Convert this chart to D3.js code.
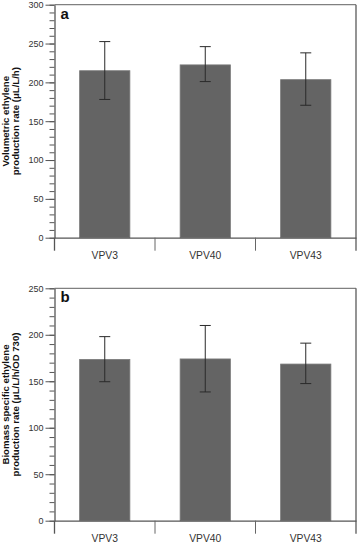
<!DOCTYPE html>
<html>
<head>
<meta charset="utf-8">
<script src="https://cdn.jsdelivr.net/npm/d3@7"></script>
<style>
  body { margin: 0; background: #fff; }
  svg { display: block; font-family: Arial, "Liberation Sans", sans-serif; }
  .tick text { fill: #333; }
</style>
</head>
<body>
<script>
var anchoSvg = 359,
    altoSvg = 543;

// datos
var cepas = ['VPV3', 'VPV40', 'VPV43'];

var volumetrica = [215, 222.5, 203.5];
var volumetricaSup = [252.5, 246, 238];
var volumetricaInf = [178, 201, 170.5];

var biomasa = [173.5, 174, 168.5];
var biomasaSup = [198, 210, 191];
var biomasaInf = [149.5, 138.5, 147.5];

var ticksA = [0, 50, 100, 150, 200, 250, 300];
var ticksB = [0, 50, 100, 150, 200, 250];

var paneles = [
  {letra: 'a', valores: volumetrica, sup: volumetricaSup, inf: volumetricaInf,
   max: 300, ticks: ticksA, arriba: 4.7, abajo: 237.7,
   titulo: ['Volumetric ethylene', 'production rate (\u03BCL/L/h)']},
  {letra: 'b', valores: biomasa, sup: biomasaSup, inf: biomasaInf,
   max: 250, ticks: ticksB, arriba: 288.3, abajo: 520.7,
   titulo: ['Biomass specific ethylene', 'production rate (\u03BCL/L/h/OD 730)']}
];

var margen = {izq: 54.5, dcho: 356};

var svg = d3.select('body')
  .append('svg')
  .attr('width', anchoSvg)
  .attr('height', altoSvg);

var escalaX = d3.scaleBand()
  .domain(cepas)
  .range([margen.izq, margen.dcho])
  .paddingInner(0.5)
  .paddingOuter(0.25);

paneles.forEach(function (p) {
  var g = svg.append('g').attr('class', 'panel-' + p.letra);

  var escalaY = d3.scaleLinear()
    .domain([0, p.max])
    .range([p.abajo, p.arriba]);

  // marco superior y derecho
  g.append('line')
    .attr('x1', margen.izq).attr('x2', margen.dcho)
    .attr('y1', escalaY(p.max)).attr('y2', escalaY(p.max))
    .attr('stroke', '#808080').attr('stroke-width', 1.2);
  g.append('line')
    .attr('x1', margen.dcho).attr('x2', margen.dcho)
    .attr('y1', escalaY(p.max)).attr('y2', escalaY(0) + 13)
    .attr('stroke', '#666').attr('stroke-width', 1.4);

  // barras
  g.selectAll('.barra')
    .data(p.valores)
    .enter()
    .append('rect')
    .attr('class', 'barra')
    .attr('x', (d, i) => escalaX(cepas[i]))
    .attr('width', escalaX.bandwidth())
    .attr('y', d => escalaY(d))
    .attr('height', d => escalaY(0) - escalaY(d))
    .attr('fill', '#646464')
    .attr('stroke', '#7a7a7a')
    .attr('stroke-width', 0.8);

  // barras de error
  var errores = g.selectAll('.error')
    .data(p.valores)
    .enter()
    .append('g')
    .attr('class', 'error')
    .attr('stroke', '#2a2a2a')
    .attr('stroke-width', 1);
  var centro = i => escalaX(cepas[i]) + escalaX.bandwidth() / 2;
  errores.append('line')
    .attr('x1', (d, i) => centro(i)).attr('x2', (d, i) => centro(i))
    .attr('y1', (d, i) => escalaY(p.sup[i])).attr('y2', (d, i) => escalaY(p.inf[i]));
  errores.append('line')
    .attr('x1', (d, i) => centro(i) - 5.5).attr('x2', (d, i) => centro(i) + 5.5)
    .attr('y1', (d, i) => escalaY(p.sup[i])).attr('y2', (d, i) => escalaY(p.sup[i]));
  errores.append('line')
    .attr('x1', (d, i) => centro(i) - 5.5).attr('x2', (d, i) => centro(i) + 5.5)
    .attr('y1', (d, i) => escalaY(p.inf[i])).attr('y2', (d, i) => escalaY(p.inf[i]));

  // eje Y: ticks menores cada 10
  var ejeMenor = d3.axisLeft(escalaY)
    .tickValues(d3.range(0, p.max + 1, 10))
    .tickSize(5)
    .tickSizeOuter(0)
    .tickFormat('');
  g.append('g')
    .attr('class', 'ejeY-menor')
    .attr('transform', 'translate(' + margen.izq + ',0)')
    .call(ejeMenor)
    .call(e => e.select('.domain').remove())
    .call(e => e.selectAll('line').attr('stroke', '#555'));

  var ejeY = d3.axisLeft(escalaY)
    .tickValues(p.ticks)
    .tickSize(9)
    .tickSizeOuter(0)
    .tickPadding(2);
  g.append('g')
    .attr('class', 'ejeY')
    .attr('transform', 'translate(' + margen.izq + ',0)')
    .call(ejeY)
    .call(e => e.select('.domain').attr('stroke', '#555').attr('stroke-width', 1.3))
    .call(e => e.selectAll('line').attr('stroke', '#555'))
    .call(e => e.selectAll('text').attr('font-size', 9).attr('font-family', 'Arial, "Liberation Sans", sans-serif'));

  // prolongacion del eje Y bajo el eje X
  g.append('line')
    .attr('x1', margen.izq).attr('x2', margen.izq)
    .attr('y1', escalaY(0)).attr('y2', escalaY(0) + 13)
    .attr('stroke', '#555').attr('stroke-width', 1.3);

  // eje X con separadores entre categorias
  var ejeX = d3.axisBottom(escalaX)
    .tickSize(0)
    .tickSizeOuter(0)
    .tickPadding(14);
  g.append('g')
    .attr('class', 'ejeX')
    .attr('transform', 'translate(0,' + escalaY(0) + ')')
    .call(ejeX)
    .call(e => e.select('.domain').attr('stroke', '#555').attr('stroke-width', 1.3))
    .call(e => e.selectAll('text').attr('font-size', 10.3).attr('fill', '#222')
      .attr('font-family', 'Arial, "Liberation Sans", sans-serif'));

  g.selectAll('.separador')
    .data(cepas.slice(1))
    .enter()
    .append('line')
    .attr('class', 'separador')
    .attr('x1', d => escalaX(d) - escalaX.step() * 0.25)
    .attr('x2', d => escalaX(d) - escalaX.step() * 0.25)
    .attr('y1', escalaY(0)).attr('y2', escalaY(0) + 13)
    .attr('stroke', '#666').attr('stroke-width', 1);

  // letra del panel
  g.append('text')
    .text(p.letra)
    .attr('x', margen.izq + 6)
    .attr('y', escalaY(p.max) + 14)
    .attr('font-size', 15)
    .attr('font-weight', 'bold')
    .attr('fill', '#111');

  // titulo del eje Y
  var yc = (escalaY(0) + escalaY(p.max)) / 2;
  g.append('text')
    .attr('transform', 'translate(9,' + yc + ') rotate(-90)')
    .attr('text-anchor', 'middle')
    .attr('font-size', 9.6)
    .attr('font-weight', 'bold')
    .attr('fill', '#111')
    .selectAll('tspan')
    .data(p.titulo)
    .enter()
    .append('tspan')
    .attr('x', 0)
    .attr('dy', (d, i) => i == 0 ? 0 : 9.8)
    .text(d => d);
});
</script>
</body>
</html>
